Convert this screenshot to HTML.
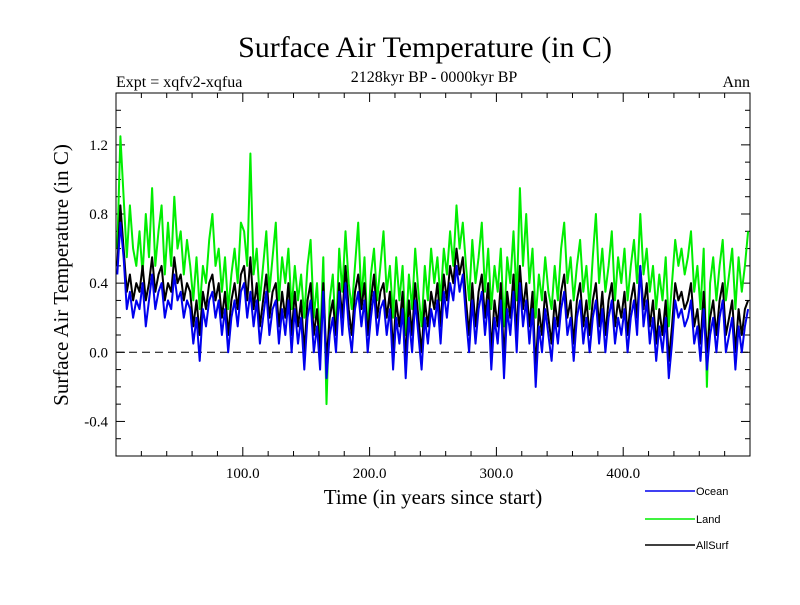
<!DOCTYPE html>
<html><head><meta charset="utf-8"><style>
body{margin:0;background:#fff;}
.serif{font-family:"Liberation Serif",serif;}
.sans{font-family:"Liberation Sans",sans-serif;}
</style></head><body>
<svg id="chart" width="800" height="600" xmlns="http://www.w3.org/2000/svg">
<rect width="800" height="600" fill="#fff"/>
<text class="serif" x="425" y="57" font-size="30" text-anchor="middle">Surface Air Temperature (in C)</text>
<text class="serif" x="116" y="87" font-size="16">Expt = xqfv2-xqfua</text>
<text class="serif" x="434" y="82" font-size="16" text-anchor="middle">2128kyr BP - 0000kyr BP</text>
<text class="serif" x="750" y="87" font-size="16" text-anchor="end">Ann</text>
<text class="serif" x="433" y="504" font-size="21" text-anchor="middle">Time (in years since start)</text>
<text class="serif" transform="translate(68,275) rotate(-90)" font-size="21" text-anchor="middle">Surface Air Temperature (in C)</text>
<g id="axes"></g>
<g id="series"></g>
<g id="legend"></g>
<rect x="116" y="93" width="634" height="363" fill="none" stroke="#000" stroke-width="1"/>
</svg>
<script>
const yearStep = 2.5;
const yTicks = [-0.4, 0.0, 0.4, 0.8, 1.2];
const yTickLabels = ["-0.4", "0.0", "0.4", "0.8", "1.2"];
const xTicks = [100, 200, 300, 400];
const xTickLabels = ["100.0", "200.0", "300.0", "400.0"];
const seriesNames = ["Ocean", "Land", "AllSurf"];
const land = [0.6,1.25,0.9,0.55,0.85,0.6,0.5,0.7,0.45,0.8,
0.55,0.95,0.5,0.7,0.85,0.45,0.75,0.5,0.9,0.6,
0.7,0.45,0.65,0.5,0.3,0.55,0.25,0.5,0.4,0.65,
0.8,0.5,0.6,0.35,0.55,0.25,0.45,0.6,0.4,0.75,
0.7,0.5,1.15,0.45,0.6,0.3,0.5,0.7,0.35,0.55,
0.75,0.3,0.55,0.4,0.6,0.25,0.5,0.3,0.45,0.2,
0.5,0.65,0.2,0.4,0.05,0.55,-0.3,0.3,0.45,0.1,
0.6,0.35,0.7,0.4,0.25,0.5,0.75,0.3,0.55,0.1,
0.45,0.6,0.3,0.5,0.7,0.35,0.5,0.2,0.55,0.3,
0.5,0.1,0.45,0.25,0.6,0.35,0.15,0.5,0.3,0.6,
0.4,0.55,0.3,0.6,0.45,0.7,0.5,0.85,0.6,0.75,
0.5,0.3,0.65,0.4,0.55,0.75,0.35,0.6,0.25,0.5,
0.35,0.6,0.15,0.55,0.4,0.7,0.3,0.95,0.5,0.8,
0.4,0.6,0.2,0.45,0.3,0.55,0.35,0.25,0.5,0.3,
0.6,0.75,0.4,0.55,0.3,0.5,0.65,0.35,0.5,0.25,
0.55,0.8,0.4,0.6,0.35,0.5,0.7,0.3,0.55,0.4,
0.6,0.3,0.5,0.65,0.4,0.8,0.45,0.6,0.35,0.5,
0.25,0.45,0.3,0.55,0.15,0.4,0.65,0.5,0.6,0.45,
0.55,0.7,0.35,0.5,0.25,0.6,-0.2,0.4,0.55,0.3,
0.5,0.65,0.3,0.45,0.6,0.25,0.55,0.35,0.5,0.7];
const ocean = [0.45,0.75,0.55,0.25,0.35,0.2,0.3,0.25,0.4,0.15,
0.3,0.45,0.25,0.35,0.4,0.2,0.3,0.25,0.45,0.3,
0.35,0.2,0.3,0.25,0.05,0.2,-0.05,0.25,0.15,0.3,
0.35,0.2,0.3,0.1,0.25,0.0,0.2,0.3,0.15,0.35,
0.4,0.2,0.35,0.15,0.3,0.05,0.2,0.35,0.1,0.25,
0.3,0.05,0.25,0.1,0.3,0.0,0.25,0.05,0.2,-0.1,
0.2,0.3,0.0,0.15,-0.1,0.35,-0.15,0.1,0.2,0.0,
0.35,0.1,0.4,0.15,0.0,0.25,0.35,0.15,0.3,0.0,
0.2,0.35,0.1,0.25,0.3,0.1,0.25,-0.1,0.2,0.05,
0.25,-0.15,0.2,0.0,0.3,0.1,-0.1,0.2,0.05,0.25,
0.15,0.3,0.05,0.35,0.2,0.4,0.3,0.5,0.35,0.45,
0.2,0.0,0.3,0.05,0.25,0.35,0.1,0.3,-0.1,0.2,
0.05,0.3,-0.15,0.25,0.1,0.35,0.0,0.4,0.15,0.3,
0.05,0.25,-0.2,0.15,0.0,0.25,0.1,-0.05,0.2,0.05,
0.25,0.35,0.1,0.2,-0.05,0.2,0.3,0.05,0.2,0.0,
0.2,0.3,0.05,0.25,0.0,0.2,0.3,0.05,0.2,0.1,
0.25,0.0,0.2,0.3,0.1,0.5,0.15,0.3,0.05,0.2,
-0.05,0.15,0.0,0.2,-0.15,0.05,0.3,0.2,0.25,0.15,
0.2,0.3,0.05,0.15,-0.05,0.25,-0.1,0.1,0.2,0.0,
0.2,0.3,0.0,0.1,0.2,-0.1,0.15,0.0,0.15,0.25];
const allsurf = [0.5,0.85,0.6,0.35,0.45,0.3,0.4,0.35,0.5,0.3,
0.4,0.55,0.35,0.45,0.5,0.3,0.4,0.35,0.55,0.4,
0.45,0.3,0.4,0.35,0.15,0.3,0.1,0.35,0.25,0.4,
0.45,0.3,0.4,0.2,0.35,0.1,0.3,0.4,0.25,0.45,
0.5,0.3,0.55,0.25,0.4,0.15,0.3,0.45,0.2,0.35,
0.4,0.15,0.35,0.2,0.4,0.1,0.35,0.15,0.3,0.0,
0.3,0.4,0.1,0.25,0.0,0.4,-0.05,0.2,0.3,0.1,
0.4,0.2,0.5,0.25,0.1,0.35,0.45,0.25,0.4,0.1,
0.3,0.45,0.2,0.35,0.4,0.2,0.35,0.0,0.3,0.15,
0.35,-0.05,0.3,0.1,0.4,0.2,0.0,0.3,0.15,0.35,
0.25,0.4,0.15,0.45,0.3,0.5,0.4,0.6,0.45,0.55,
0.3,0.1,0.4,0.15,0.35,0.45,0.2,0.4,0.0,0.3,
0.15,0.4,-0.05,0.35,0.2,0.45,0.1,0.5,0.25,0.4,
0.15,0.35,-0.1,0.25,0.1,0.35,0.2,0.05,0.3,0.15,
0.35,0.45,0.2,0.3,0.05,0.3,0.4,0.15,0.3,0.1,
0.3,0.4,0.15,0.35,0.1,0.3,0.4,0.15,0.3,0.2,
0.35,0.1,0.3,0.4,0.2,0.5,0.25,0.4,0.15,0.3,
0.05,0.25,0.1,0.3,-0.05,0.15,0.4,0.3,0.35,0.25,
0.3,0.4,0.15,0.25,0.05,0.35,0.0,0.2,0.3,0.1,
0.3,0.4,0.1,0.2,0.3,0.0,0.25,0.1,0.25,0.3];
const NS='http://www.w3.org/2000/svg';
const X0=116,X1=750,Y0=93,Y1=456,xMin=0,xMax=500,yMin=-0.6,yMax=1.5;
const sx=v=>X0+(v-xMin)/(xMax-xMin)*(X1-X0);
const sy=v=>Y1-(v-yMin)/(yMax-yMin)*(Y1-Y0);
function mk(tag,attrs,parent){const e=document.createElementNS(NS,tag);for(const k in attrs)e.setAttribute(k,attrs[k]);parent.appendChild(e);return e;}
const axes=document.getElementById('axes');
for(let v=-0.6;v<=1.5001;v+=0.1){const y=sy(v);const major=Math.abs(Math.round(v*10)%4)===0;const len=major?9:5;
const t1=mk('line',{x1:X0,x2:X0+len,y1:y,y2:y,stroke:'#000'},axes);


const t2=mk('line',{x1:X1,x2:X1-len,y1:y,y2:y,stroke:'#000'},axes);

}
yTicks.forEach((v,i)=>{const t=mk('text',{x:X0-8,y:sy(v)+5,'font-size':15,'text-anchor':'end','class':'serif'},axes);t.textContent=yTickLabels[i];

});
for(let v=20;v<500;v+=20){const x=sx(v);const major=v%100===0;const len=major?9:5;
const t1=mk('line',{x1:x,x2:x,y1:Y1,y2:Y1-len,stroke:'#000'},axes);


const t2=mk('line',{x1:x,x2:x,y1:Y0,y2:Y0+len,stroke:'#000'},axes);

}
xTicks.forEach((v,i)=>{const t=mk('text',{x:sx(v),y:Y1+22,'font-size':15,'text-anchor':'middle','class':'serif'},axes);t.textContent=xTickLabels[i];

});
const zl=mk('line',{x1:X0,x2:X1,y1:sy(0),y2:sy(0),stroke:'#000','stroke-dasharray':'8,5'},axes);


const ser=document.getElementById('series');
function drawLine(arr,color,name){const pts=arr.map((v,i)=>sx(1+i*yearStep).toFixed(1)+','+sy(v).toFixed(1)).join(' ');
const p=mk('polyline',{points:pts,fill:'none',stroke:color,'stroke-width':2,'stroke-linejoin':'round'},ser);

}
drawLine(land,'#00ee00','land-line');
drawLine(allsurf,'#000','allsurf-line');
drawLine(ocean,'#0000ee','ocean-line');
const leg=document.getElementById('legend');
const colors=['#0000ee','#00ee00','#000'];const ly=[491,519,545];
seriesNames.forEach((n,i)=>{const l=mk('line',{x1:645,x2:695,y1:ly[i],y2:ly[i],stroke:colors[i],'stroke-width':1.5},leg);


const t=mk('text',{x:696,y:ly[i]+4,'font-size':11,'class':'sans'},leg);t.textContent=n;

});
</script>
</body></html>
